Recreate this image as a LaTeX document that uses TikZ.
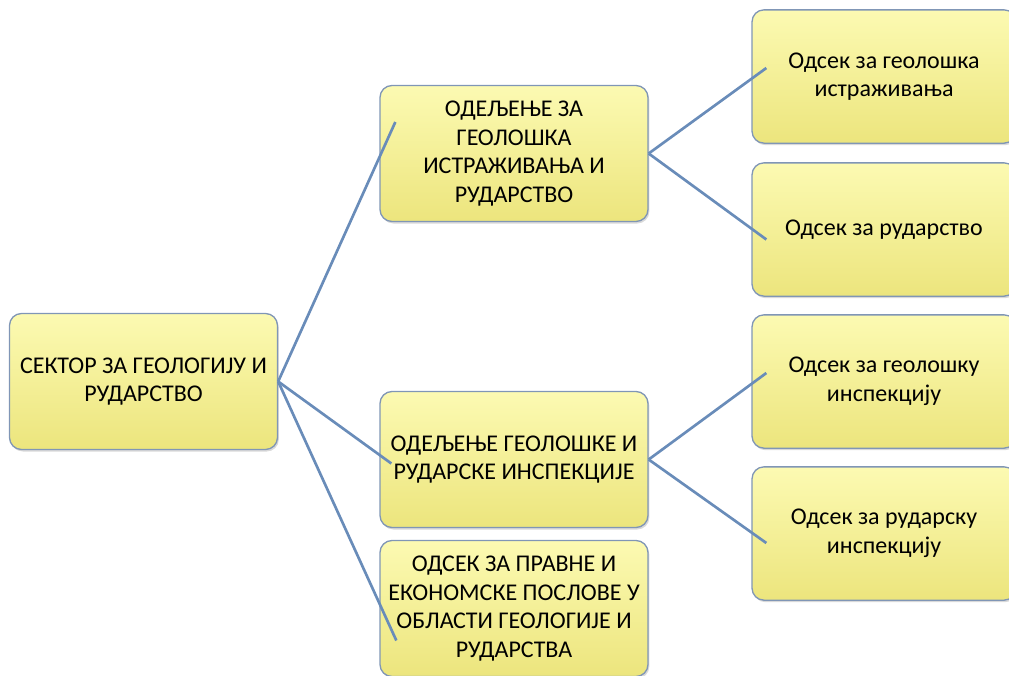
\documentclass[tikz,border=0pt]{standalone}
\usepackage{fontspec}
\setmainfont{Carlito}
\usepackage{xcolor}
\usetikzlibrary{calc, shadows, positioning}

\definecolor{okvir}{RGB}{128,150,182}
\definecolor{linija}{RGB}{105,140,185}
\definecolor{zutaA}{RGB}{252,250,178}
\definecolor{zutaB}{RGB}{250,246,152}
\definecolor{zutaC}{RGB}{236,229,125}

\begin{document}
\begin{tikzpicture}[x=0.75pt, y=-0.75pt,
    kutija/.style={rectangle, rounded corners=9pt, draw=okvir, line width=1pt,
        top color=zutaA, middle color=zutaB, bottom color=zutaC,
        drop shadow={shadow xshift=1pt, shadow yshift=-1.5pt, opacity=0.3},
        minimum width=201pt, minimum height=102pt, inner sep=0pt,
        align=center, font=\fontsize{18}{21.5}\selectfont},
    veza/.style={draw=linija, line width=2pt}]
    \useasboundingbox (0,0) rectangle (1009,675);

    % Sektor
    \node[kutija] (sektor) at (143.5,381.5) {СЕКТОР ЗА ГЕОЛОГИЈУ И\\РУДАРСТВО};

    % Odeljenja i odsek
    \node[kutija] (odeljenje1) at (514,153.5) {ОДЕЉЕЊЕ ЗА\\ГЕОЛОШКА\\ИСТРАЖИВАЊА И\\РУДАРСТВО};
    \node[kutija] (odeljenje2) at (514,459.5) {ОДЕЉЕЊЕ ГЕОЛОШКЕ И\\РУДАРСКЕ ИНСПЕКЦИЈЕ};
    \node[kutija] (odsekpravni) at (514,608.5) {ОДСЕК ЗА ПРАВНЕ И\\ЕКОНОМСКЕ ПОСЛОВЕ У\\ОБЛАСТИ ГЕОЛОГИЈЕ И\\РУДАРСТВА};

    % Odseci
    \node[kutija, minimum width=198pt, minimum height=100pt] (istrazivanja) at (884,76.5) {Одсек за геолошка\\истраживања};
    \node[kutija, minimum width=198pt, minimum height=100pt] (rudarstvo) at (884,229.5) {Одсек за рударство};
    \node[kutija, minimum width=198pt, minimum height=100pt] (geoinspekcija) at (884,381.5) {Одсек за геолошку\\инспекцију};
    \node[kutija, minimum width=198pt, minimum height=100pt] (rudinspekcija) at (884,533.5) {Одсек за рударску\\инспекцију};

    % Veze
    \draw[veza] (sektor.east) -- ($(odeljenje1.west)+(16,-31.5)$);
    \draw[veza] (sektor.east) -- ($(odeljenje2.west)+(12,4)$);
    \draw[veza] (sektor.east) -- ($(odsekpravni.west)+(17,32)$);
    \draw[veza] (odeljenje1.east) -- ($(istrazivanja.west)+(15,-8.5)$);
    \draw[veza] (odeljenje1.east) -- ($(rudarstvo.west)+(15,10)$);
    \draw[veza] (odeljenje2.east) -- ($(geoinspekcija.west)+(15,-8.5)$);
    \draw[veza] (odeljenje2.east) -- ($(rudinspekcija.west)+(15,9.5)$);
\end{tikzpicture}
\end{document}
